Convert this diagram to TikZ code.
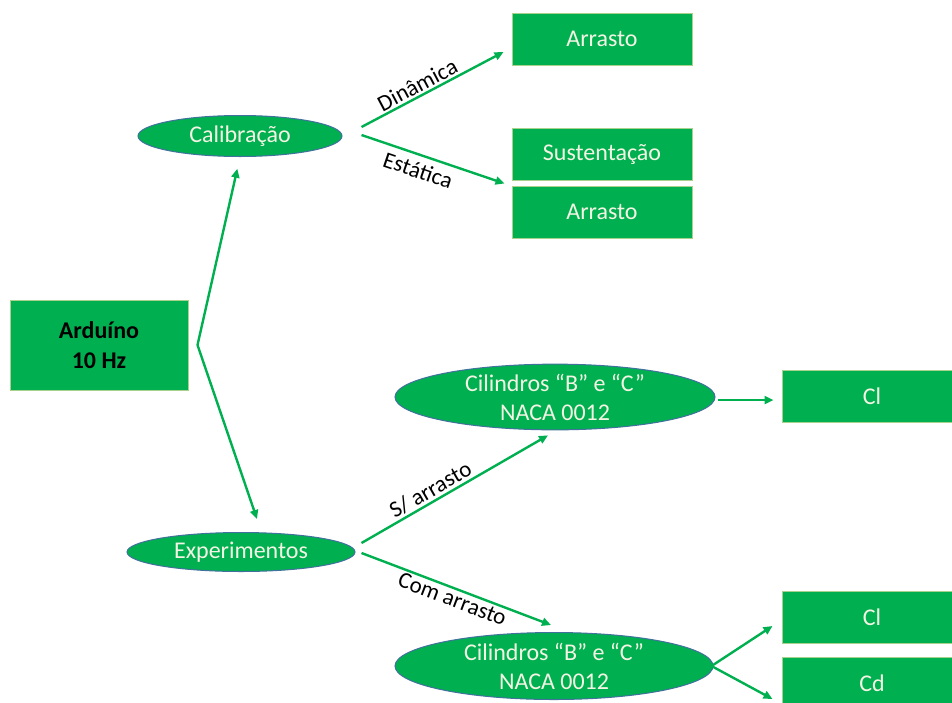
\documentclass[tikz,border=0pt]{standalone}
\usepackage{fontspec}
\setmainfont{Carlito}
\usetikzlibrary{shapes.geometric,arrows.meta}
\definecolor{leaf}{RGB}{0,176,80}
\definecolor{boxrim}{RGB}{169,209,142}
\definecolor{ovalrim}{RGB}{65,113,156}
\definecolor{cream}{RGB}{244,244,228}
\tikzset{
  greenbox/.style={rectangle, fill=leaf, draw=boxrim, line width=1pt,
    minimum width=180pt, minimum height=52pt, inner sep=0pt,
    text=cream, font=\fontsize{24}{28}\selectfont},
  oval/.style={ellipse, fill=leaf, draw=ovalrim, line width=1pt, inner sep=0pt,
    text=cream, font=\fontsize{24}{29}\selectfont, align=center},
  link/.style={draw=leaf, line width=2.4pt, -{Triangle[length=9pt,width=8pt]}},
  tag/.style={font=\fontsize{23}{27}\selectfont, text=black, inner sep=2pt}
}
\begin{document}
\begin{tikzpicture}[x=1pt,y=-1pt]
\useasboundingbox (0,0) rectangle (952,702);

% source block
\node[greenbox, minimum width=178pt, minimum height=90pt, text=black,
  font=\fontsize{24}{30}\selectfont\bfseries, align=center] (ard) at (99,345) {Arduíno\\10 Hz};

% ellipses
\node[oval, minimum width=204pt, minimum height=41pt] (calib) at (240,136) {Calibração};
\node[oval, minimum width=228pt, minimum height=39pt] (exp) at (241,552) {Experimentos};
\node[oval, minimum width=320pt, minimum height=63pt] (cylA) at (555,397) {Cilindros “B” e “C”\\NACA 0012};
\node[oval, minimum width=318pt, minimum height=67pt] (cylB) at (554,666) {Cilindros “B” e “C”\\NACA 0012};

% result boxes
\node[greenbox] (arr1) at (602,39) {Arrasto};
\node[greenbox] (sust) at (602,154) {Sustentação};
\node[greenbox] (arr2) at (602,212) {Arrasto};
\node[greenbox] (clA) at (872,396) {Cl};
\node[greenbox] (clB) at (872,617) {Cl};
\node[greenbox] (cd) at (872,683) {Cd};

% fork leaving the source block
\coordinate (fork) at ([xshift=9pt]ard.east);
\draw[link, shorten >=12pt] (fork) -- (calib.south);
\draw[link] (fork) -- ([xshift=16pt,yshift=13pt]exp.north);

% calibration branches
\draw[link] ([xshift=19pt,yshift=9pt]calib.east) --
  node[tag, above, sloped, pos=0.43] {Dinâmica} ([xshift=-8pt,yshift=-13pt]arr1.west);
\draw[link] ([xshift=19pt,yshift=1pt]calib.east) --
  node[tag, below=4pt, sloped, pos=0.43] {Estática} ([xshift=-7pt,yshift=-3pt]sust.south west);

% experiment branches
\draw[link] ([xshift=6pt,yshift=9pt]exp.east) --
  node[tag, above, sloped, pos=0.4] {S/ arrasto} ([xshift=-7pt,yshift=-5pt]cylA.south);
\draw[link] ([xshift=6pt,yshift=-1pt]exp.east) --
  node[tag, below, sloped, pos=0.5] {Com arrasto} ([xshift=-3pt,yshift=7pt]cylB.north);

% coefficient outputs
\draw[link, shorten <=2pt, shorten >=8pt] ([yshift=-3pt]cylA.east) -- ([yshift=-4pt]clA.west);
\coordinate (split) at ([xshift=-2pt]cylB.east);
\draw[link] (split) -- ([xshift=-9pt,yshift=-9pt]clB.west);
\draw[link] (split) -- ([xshift=-9pt,yshift=-16pt]cd.west);
\end{tikzpicture}
\end{document}
